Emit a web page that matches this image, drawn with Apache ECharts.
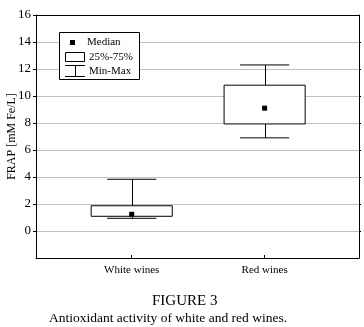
<!DOCTYPE html>
<html>
<head>
<meta charset="utf-8">
<script src="https://cdn.jsdelivr.net/npm/echarts@6/dist/echarts.min.js"></script>
<style>
  html, body { margin: 0; padding: 0; background: #fff; }
  #chart { width: 364px; height: 327px; }
</style>
</head>
<body>
<div id="chart"></div>
<script>
  const categories = ['White wines', 'Red wines'];
  const minVals = [0.94, 6.9];
  const q1Vals = [1.09, 7.93];
  const medianVals = [1.24, 9.1];
  const q3Vals = [1.87, 10.8];
  const maxVals = [3.83, 12.3];
  const yTicks = [-2, 0, 2, 4, 6, 8, 10, 12, 14, 16];

  const serif = '"Liberation Serif", "Times New Roman", serif';

  // rows: [position, min, q1, median, q3, max]
  const rows = categories.map((c, i) => [i, minVals[i], q1Vals[i], medianVals[i], q3Vals[i], maxVals[i]]);

  function renderBox(params, api) {
    const x = api.value(0);
    const boxHalf = 0.305, capHalf = 0.185;
    const pMin = api.coord([x, api.value(1)]);
    const pQ1 = api.coord([x, api.value(2)]);
    const pMed = api.coord([x, api.value(3)]);
    const pQ3 = api.coord([x, api.value(4)]);
    const pMax = api.coord([x, api.value(5)]);
    const bl = api.coord([x - boxHalf, 0])[0];
    const br = api.coord([x + boxHalf, 0])[0];
    const cl = api.coord([x - capHalf, 0])[0];
    const cr = api.coord([x + capHalf, 0])[0];
    const cx = Math.round(pMed[0]) + 0.5;
    const line = { stroke: '#000', lineWidth: 1 };
    return {
      type: 'group',
      children: [
        { type: 'line', shape: { x1: cx, y1: pQ3[1], x2: cx, y2: pMax[1] }, style: line },
        { type: 'line', shape: { x1: cx, y1: pQ1[1], x2: cx, y2: pMin[1] }, style: line },
        { type: 'line', shape: { x1: cl, y1: pMax[1], x2: cr, y2: pMax[1] }, style: line },
        { type: 'line', shape: { x1: cl, y1: pMin[1], x2: cr, y2: pMin[1] }, style: line },
        { type: 'rect', shape: { x: bl, y: pQ3[1], width: br - bl, height: pQ1[1] - pQ3[1] },
          style: { fill: '#fff', stroke: '#000', lineWidth: 1 } },
        { type: 'rect', shape: { x: pMed[0] - 2.5, y: pMed[1] - 2.5, width: 5, height: 5 },
          style: { fill: '#000' } }
      ]
    };
  }

  const axisBlack = { show: true, onZero: false, lineStyle: { color: '#000', width: 1 } };

  const chart = echarts.init(document.getElementById('chart'));
  chart.setOption({
    animation: false,
    textStyle: { fontFamily: serif, color: '#000' },
    title: [
      { text: 'FIGURE 3', left: 152, top: 294, padding: 0,
        textStyle: { fontFamily: serif, fontSize: 15, fontWeight: 'normal', color: '#000' } },
      { text: 'Antioxidant activity of white and red wines.', left: 49, top: 311, padding: 0,
        textStyle: { fontFamily: serif, fontSize: 13.5, fontWeight: 'normal', color: '#000' } }
    ],
    grid: { left: 36, right: 5, top: 15, bottom: 69, show: false, containLabel: false, outerBoundsMode: 'none' },
    xAxis: [
      {
        type: 'value', min: -0.72, max: 1.71, position: 'bottom', z: 3,
        axisLine: axisBlack,
        axisTick: { show: true, inside: true, length: 3, customValues: [0, 1], lineStyle: { color: '#000' } },
        axisLabel: { show: true, customValues: [0, 1], fontSize: 11, color: '#000', margin: 7,
          formatter: v => categories[Math.round(v)] },
        splitLine: { show: false }
      },
      {
        type: 'value', min: -0.72, max: 1.71, position: 'top', z: 3,
        axisLine: axisBlack,
        axisTick: { show: false }, axisLabel: { show: false }, splitLine: { show: false }
      }
    ],
    yAxis: [
      {
        type: 'value', min: -2, max: 16, interval: 2, position: 'left', z: 3,
        name: 'FRAP [mM Fe/L]', nameLocation: 'middle', nameGap: 18, nameMoveOverlap: false,
        nameTextStyle: { fontSize: 12, color: '#000', fontFamily: serif },
        axisLine: axisBlack,
        axisTick: { show: true, length: 3, customValues: yTicks.slice(1), lineStyle: { color: '#000' } },
        axisLabel: { fontSize: 13, color: '#000', margin: 5,
          formatter: v => (v === yTicks[0] ? '' : String(v)) },
        splitLine: { show: true, lineStyle: { color: '#c0c0c0', width: 1 } }
      },
      {
        type: 'value', min: -2, max: 16, interval: 2, position: 'right', z: 3,
        axisLine: axisBlack,
        axisTick: { show: true, length: 2, customValues: yTicks.slice(1, -1), lineStyle: { color: '#000' } },
        axisLabel: { show: false }, splitLine: { show: false }
      }
    ],
    series: [
      {
        type: 'custom', name: 'FRAP', xAxisIndex: 0, yAxisIndex: 0, z: 4,
        renderItem: renderBox,
        encode: { x: 0, y: [1, 2, 3, 4, 5] },
        data: rows
      }
    ],
    graphic: [
      { type: 'rect', z: 10,
        shape: { x: 59.5, y: 32.5, width: 80, height: 47 }, style: { fill: '#fff', stroke: '#000', lineWidth: 1 } },
      { type: 'rect', z: 11, shape: { x: 70, y: 40, width: 5, height: 5 }, style: { fill: '#000' } },
      { type: 'text', left: 87, top: 37, z: 11,
        style: { text: 'Median', fontFamily: serif, fontSize: 11, fill: '#000' } },
      { type: 'rect', z: 11, shape: { x: 65.5, y: 52.5, width: 19, height: 9 },
        style: { fill: '#fff', stroke: '#000', lineWidth: 1 } },
      { type: 'text', left: 89, top: 52, z: 11,
        style: { text: '25%-75%', fontFamily: serif, fontSize: 11, fill: '#000' } },
      { type: 'line', z: 11, shape: { x1: 65, y1: 65.5, x2: 85, y2: 65.5 }, style: { stroke: '#000' } },
      { type: 'line', z: 11, shape: { x1: 75.5, y1: 65, x2: 75.5, y2: 76 }, style: { stroke: '#000' } },
      { type: 'line', z: 11, shape: { x1: 65, y1: 76.5, x2: 85, y2: 76.5 }, style: { stroke: '#000' } },
      { type: 'text', left: 89, top: 66, z: 11,
        style: { text: 'Min-Max', fontFamily: serif, fontSize: 11, fill: '#000' } }
    ]
  });
</script>
</body>
</html>
